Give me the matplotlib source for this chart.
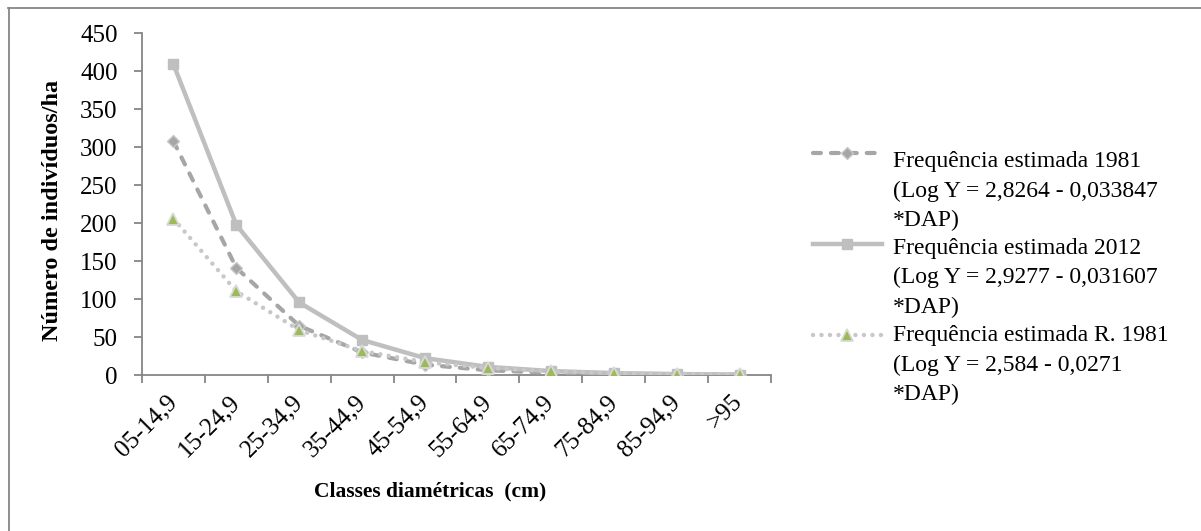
import matplotlib
matplotlib.use("Agg")
import matplotlib.pyplot as plt
from matplotlib.lines import Line2D

plt.rcParams['font.family'] = ['Liberation Serif', 'DejaVu Serif']

categories = ["05-14,9", "15-24,9", "25-34,9", "35-44,9", "45-54,9",
              "55-64,9", "65-74,9", "75-84,9", "85-94,9", ">95"]
freq_1981 = [307.5, 141.0, 64.7, 29.7, 13.6, 6.2, 2.9, 1.3, 0.6, 0.3]
freq_2012 = [408.9, 197.5, 95.4, 46.1, 22.2, 10.7, 5.2, 2.5, 1.2, 0.6]
freq_r1981 = [205.6, 110.2, 59.0, 31.6, 16.9, 9.1, 4.9, 2.6, 1.4, 0.75]
labels = ["Frequência estimada 1981\n(Log Y = 2,8264 - 0,033847\n*DAP)",
          "Frequência estimada 2012\n(Log Y = 2,9277 - 0,031607\n*DAP)",
          "Frequência estimada R. 1981\n(Log Y = 2,584 - 0,0271\n*DAP)"]
yticks = [0, 50, 100, 150, 200, 250, 300, 350, 400, 450]

W, H = 1201, 531
fig = plt.figure(figsize=(W / 100, H / 100), dpi=100)
ax = fig.add_axes([142 / W, 1 - 375 / H, (771 - 142) / W, (375 - 33) / H])

styles = [
    dict(color="#A6A6A6", lw=3.0, ls=(0, (1.9, 2.4)), dash_capstyle='round',
         marker='D', ms=6.5, mfc="#A6A6A6", mec="#C8C8C8", mew=1, zorder=3),
    dict(color="#BFBFBF", lw=3.2, ls='-', marker='s', ms=7.5,
         mfc="#BFBFBF", mec="#BFBFBF", zorder=3),
    dict(color="#C8C8C8", lw=3.2, ls=(0, (0.01, 1.9)), dash_capstyle='round',
         marker='^', ms=8.5, mfc="#9BBB59", mec="#D9D9D9", mew=1.3, zorder=4),
]
series = [freq_1981, freq_2012, freq_r1981]

x = list(range(len(categories)))
for vals, st in zip(series, styles):
    ax.plot(x, vals, **st)

ax.set_xlim(-0.5, len(categories) - 0.5)
ax.set_ylim(0, 450)
ax.set_yticks(yticks)
ax.set_xticks(x)
ax.set_xticklabels(categories, rotation=45, ha='right', va='center',
                   rotation_mode='anchor', fontsize=18)
ax.tick_params(axis='x', length=0, pad=17)
ax.set_xticks([i - 0.5 for i in range(len(categories) + 1)], minor=True)
ax.tick_params(axis='x', which='minor', length=5.5, color="#868686",
               width=1.3, direction='out')
ax.tick_params(axis='y', length=5.5, color="#868686", width=1.3,
               labelsize=18, pad=12)
for s in ['top', 'right']:
    ax.spines[s].set_visible(False)
for s in ['left', 'bottom']:
    ax.spines[s].set_color("#868686")
    ax.spines[s].set_linewidth(1.3)

fig.text(52 / W, 1 - 210 / H, "Número de indivíduos/ha", rotation=90,
         ha='center', va='center', fontsize=17.5, fontweight='bold')
fig.text(430 / W, 1 - 491 / H, "Classes diamétricas  (cm)",
         ha='center', va='center', fontsize=15.5, fontweight='bold')

# legend (manual, handle aligned with first text line)
for i, (label, st) in enumerate(zip(labels, styles)):
    yh = 153 + 91 * i
    line_kw = {k: v for k, v in st.items()
               if k not in ('marker', 'ms', 'mfc', 'mec', 'mew', 'zorder')}
    fig.add_artist(Line2D([813 / W, 882 / W], [1 - yh / H] * 2,
                          transform=fig.transFigure, **line_kw))
    fig.add_artist(Line2D([847.5 / W], [1 - yh / H], transform=fig.transFigure,
                          ls='none', marker=st['marker'], ms=st['ms'],
                          mfc=st['mfc'], mec=st['mec'], mew=st.get('mew', 1)))
    for j, txt in enumerate(label.split("\n")):
        yb = 167 + 87 * i + 29.5 * j
        fig.text(893 / W, 1 - yb / H, txt, ha='left', va='baseline',
                 fontsize=17)

# outer frame (only top and left edges visible)
fig.add_artist(Line2D([8 / W, 1.01], [1 - 7.5 / H] * 2,
                      transform=fig.transFigure, color="#868686", lw=1.3))
fig.add_artist(Line2D([8.5 / W] * 2, [-0.01, 1 - 7.5 / H],
                      transform=fig.transFigure, color="#868686", lw=1.3))

fig.savefig("out.png", dpi=100)
